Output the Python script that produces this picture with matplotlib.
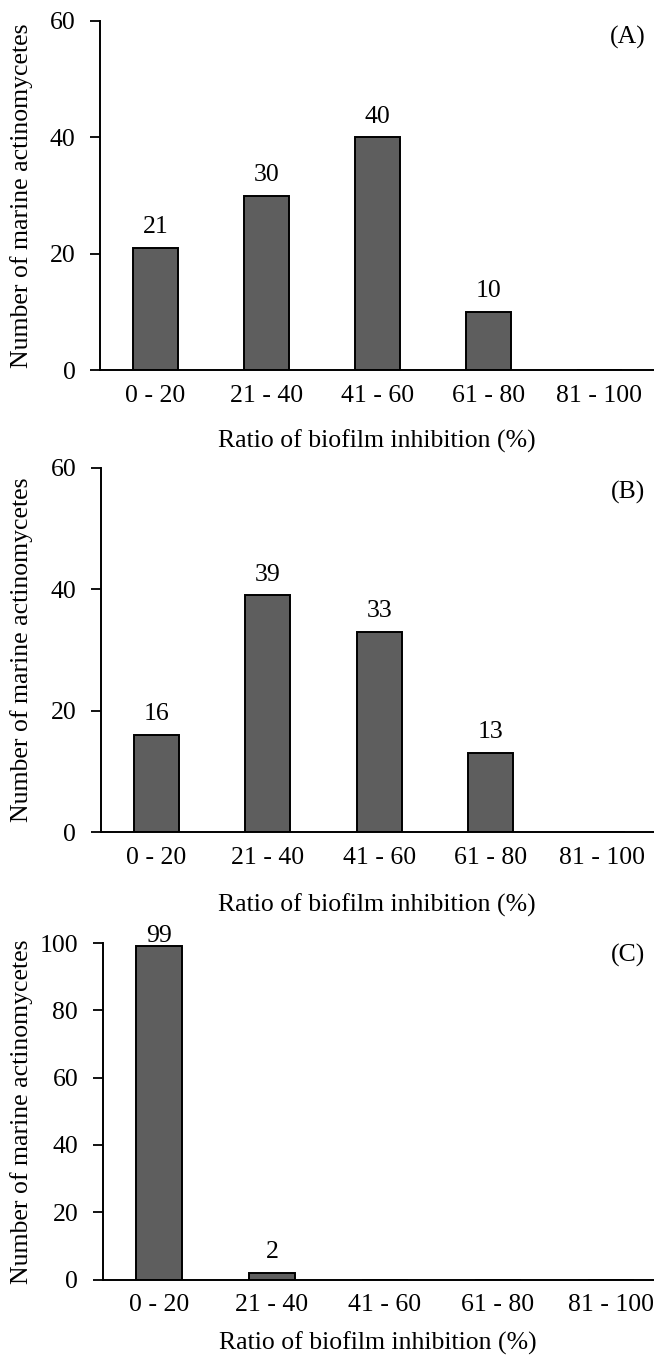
import matplotlib.pyplot as plt

plt.rcParams['font.family'] = ['Liberation Serif']
plt.rcParams['font.serif'] = ['Liberation Serif']

categories = ['0 - 20', '21 - 40', '41 - 60', '61 - 80', '81 - 100']
values_a = [21, 30, 40, 10, 0]
values_b = [16, 39, 33, 13, 0]
values_c = [99, 2, 0, 0, 0]
panel_labels = ['(A)', '(B)', '(C)']

W, H = 654, 1359
fs = 18.5
fig = plt.figure(figsize=(W / 100, H / 100), dpi=100)

# pixel boxes for each panel: left, top, bottom, right, spacing, ymax, panel label y, xlabel y
panels = [
    (100.0, 20.7, 370.5, 654, 111.0, 60, 37, 441),
    (100.5, 468.0, 832.0, 654, 111.5, 60, 492, 905),
    (102.5, 943.0, 1279.5, 654, 113.0, 100, 955, 1343),
]
data = [values_a, values_b, values_c]

for (left, top, bottom, right, step, ymax, ly, xly), vals, plab in zip(panels, data, panel_labels):
    ax = fig.add_axes([left / W, 1 - bottom / H, (right - left) / W, (bottom - top) / H])
    x = range(len(categories))
    ax.bar(x, vals, width=0.4, color='#5e5e5e', edgecolor='black', linewidth=1.4, zorder=2)
    for xi, v in zip(x, vals):
        if v == 0:
            continue
        # label hugging the top when the bar nearly reaches the axis limit
        off = -0.5 if v >= ymax - 5 else 7
        ax.annotate(str(v), (xi, v), xytext=(0, off), textcoords='offset points',
                    ha='center', va='bottom', fontsize=fs, annotation_clip=False)
    ax.set_xlim(-0.5, -0.5 + (right - left) / step)
    ax.set_ylim(0, ymax)
    ax.set_yticks(range(0, ymax + 1, 20))
    ax.set_xticks(list(x))
    ax.set_xticklabels(categories)
    ax.tick_params(axis='x', length=0, pad=10.5, labelsize=fs)
    ax.tick_params(axis='y', length=7, width=1.3, pad=10.5, labelsize=fs, direction='out')
    for s in ['top', 'right']:
        ax.spines[s].set_visible(False)
    ax.spines['left'].set_linewidth(1.4)
    ax.spines['bottom'].set_linewidth(1.4)
    ax.set_xlabel('Ratio of biofilm inhibition (%)', fontsize=fs, va='center')
    ax.xaxis.set_label_coords(0.5, -(xly - bottom) / (bottom - top))
    ax.set_ylabel('Number of marine actinomycetes', fontsize=fs)
    ax.yaxis.set_label_coords((33 - left) / (right - left), 0.5)
    fig.text(628 / W, 1 - ly / H, plab, ha='center', va='center', fontsize=fs)

fig.savefig('out.png', dpi=100)
